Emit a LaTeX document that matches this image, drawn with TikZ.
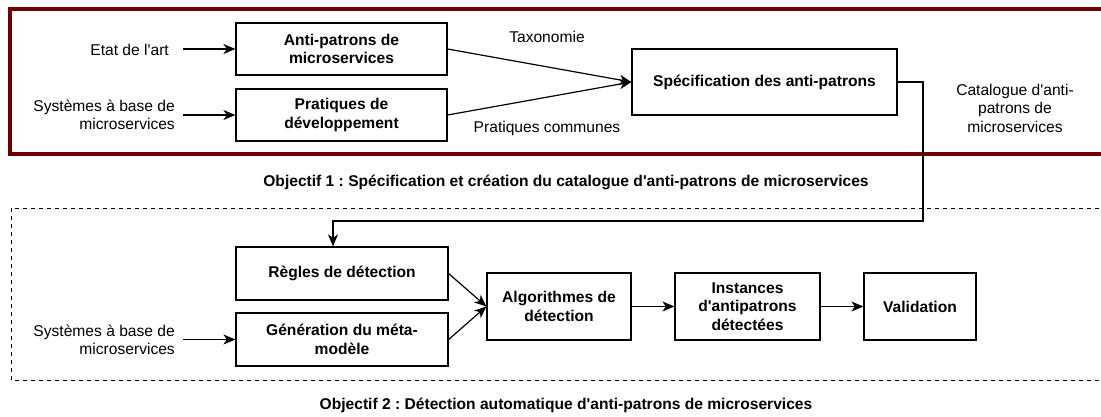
\documentclass[tikz,border=0pt]{standalone}
\usepackage{fontspec}
\setmainfont{Liberation Sans}
\usetikzlibrary{arrows.meta}
\definecolor{framered}{RGB}{110,0,0}
\newcommand{\fs}{\fontsize{15.6}{18.5}\selectfont}
\newcommand{\q}{\textquotesingle}
\frenchspacing
\begin{document}
\begin{tikzpicture}[x=1pt,y=-1pt,
  box/.style={draw, line width=1.2pt, font=\bfseries\fs, align=center, inner sep=2pt},
  lbl/.style={font=\fs, inner sep=0pt},
  arr/.style={line width=1.2pt, -{Stealth[length=12pt,width=10pt,inset=3.5pt]}},
  ln/.style={line width=1.2pt}]
\useasboundingbox (0,0) rectangle (1101,417);
\clip (0,0) rectangle (1101,417);
% frames
\draw[framered, line width=4pt] (10,9) rectangle (1115,154);
\draw[line width=1pt, dash pattern=on 4pt off 4pt] (11,208) rectangle (1115,380);
% boxes top
\node[box, minimum width=211pt, minimum height=52pt] (anti) at (341.5,49) {Anti-patrons de\\microservices};
\node[box, minimum width=211pt, minimum height=52pt] (prat) at (341.5,115) {Pratiques de\\développement};
\node[box, minimum width=265pt, minimum height=66pt] (spec) at (764.5,82) {Spécification des anti-patrons};
% boxes bottom
\node[box, minimum width=212pt, minimum height=53pt] (regles) at (342,273.5) {Règles de détection};
\node[box, minimum width=212pt, minimum height=53pt] (gen) at (342,339.5) {Génération du méta-\\modèle};
\node[box, minimum width=144pt, minimum height=67pt] (algo) at (559,306.5) {Algorithmes de\\détection};
\node[box, minimum width=145pt, minimum height=67pt] (inst) at (747.5,306.5) {Instances\\d\q antipatrons\\détectées};
\node[box, minimum width=112pt, minimum height=67pt] (valid) at (920,306.5) {Validation};
% labels
\node[lbl, anchor=east] (etat) at (169,50) {Etat de l\q art};
\node[lbl, anchor=east, align=right] (sys1) at (175,115) {Systèmes à base de\\microservices};
\node[lbl, anchor=east, align=right] (sys2) at (175,340) {Systèmes à base de\\microservices};
\node[lbl] (taxo) at (547,37) {Taxonomie};
\node[lbl] (pcom) at (547,128) {Pratiques communes};
\node[lbl, align=center] (cat) at (1015,108) {Catalogue d\q anti-\\patrons de\\microservices};
\node[lbl, font=\bfseries\fs] (obj1) at (566,182) {Objectif 1 : Spécification et création du catalogue d\q anti-patrons de microservices};
\node[lbl, font=\bfseries\fs] (obj2) at (566,405) {Objectif 2 : Détection automatique d\q anti-patrons de microservices};
% connectors
\draw[arr] ([xshift=14pt]etat.east |- anti.west) -- (anti.west);
\draw[arr] ([xshift=8pt]sys1.east |- prat.west) -- (prat.west);
\draw[arr] ([xshift=8pt]sys2.east |- gen.west) -- (gen.west);
\draw[arr] (anti.east) -- (spec.west);
\draw[arr] (prat.east) -- (spec.west);
\coordinate (k1) at (923,221);
\coordinate (k2) at (333,221);
\draw[arr] (spec.east) -| (k1) -- (k2) -- (k2 |- regles.north);
\draw[arr] (regles.east) -- (algo.west);
\draw[arr] (gen.east) -- (algo.west);
\draw[arr] (algo.east) -- (inst.west);
\draw[arr] (inst.east) -- (valid.west);
\end{tikzpicture}
\end{document}
